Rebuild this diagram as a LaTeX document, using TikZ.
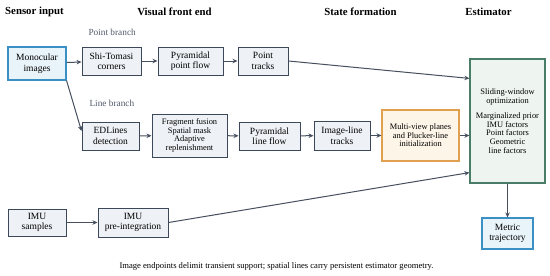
\documentclass[tikz,border=0pt]{standalone}
\usepackage{fontspec}
\setmainfont{LiberationSerif}[Extension=.ttf, UprightFont=*-Regular, BoldFont=*-Bold, ItalicFont=*-Italic, BoldItalicFont=*-BoldItalic]
\usepackage{tikz}
\usetikzlibrary{arrows.meta,positioning,calc}

\definecolor{edgegray}{HTML}{3C4858}
\definecolor{boxfill}{HTML}{EEF1F5}
\definecolor{inblue}{HTML}{3A8FC4}
\definecolor{infill}{HTML}{E9F3FA}
\definecolor{estgreen}{HTML}{4A7D68}
\definecolor{estfill}{HTML}{EEF5F1}
\definecolor{initorange}{HTML}{E0A050}
\definecolor{initfill}{HTML}{FDF5E8}
\definecolor{arrowgray}{HTML}{454F5E}

\begin{document}
\begin{tikzpicture}[
    x=1pt, y=-1pt,
    font=\fontsize{9.5}{10.5}\selectfont,
    box/.style={draw=edgegray, fill=boxfill, line width=1pt, align=center, inner sep=1pt},
    smallbox/.style={box, font=\fontsize{8.4}{8.6}\selectfont},
    inbox/.style={box, draw=inblue, fill=infill, line width=1.1pt},
    heading/.style={font=\fontsize{10.8}{12}\selectfont\bfseries},
    branch/.style={font=\fontsize{9.3}{11}\selectfont, text=edgegray!90, anchor=west},
    arr/.style={draw=arrowgray, line width=1pt, -{Stealth[length=5pt,width=4.5pt]}}
]
\useasboundingbox (0,0) rectangle (550,276);

% Column headings
\node (hsens) at (34.5,12) [heading] {Sensor input};
\node (hvis) at (174.5,12) [heading] {Visual front end};
\node (hstate) at (360.5,12) [heading] {State formation};
\node (hest) at (488.5,12) [heading] {Estimator};

% Branch labels
\node (lpoint) at (85,32) [branch] {Point branch};
\node (lline) at (86,103) [branch] {Line branch};

% Sensor inputs
\node (mono) at (37,63.5) [inbox, minimum width=58pt, minimum height=33pt] {Monocular\\images};
\node (imus) at (37,222.5) [box, minimum width=58pt, minimum height=27pt] {IMU\\samples};

% Point branch
\node (shi) at (111.5,61) [box, minimum width=59pt, minimum height=28pt] {Shi-Tomasi\\corners};
\node (ppf) at (190.5,61) [box, minimum width=65pt, minimum height=28pt] {Pyramidal\\point flow};
\node (ptr) at (263,61) [box, minimum width=50pt, minimum height=28pt] {Point\\tracks};

% Line branch
\node (edl) at (110.5,136) [box, minimum width=57pt, minimum height=28pt] {EDLines\\detection};
\node (frag) at (189.5,135.5) [smallbox, minimum width=75pt, minimum height=43pt] {Fragment fusion\\Spatial mask\\Adaptive\\replenishment};
\node (plf) at (269.5,136) [box, minimum width=61pt, minimum height=28pt] {Pyramidal\\line flow};
\node (ilt) at (342,135.5) [box, minimum width=56pt, minimum height=29pt] {Image-line\\tracks};
\node (mvp) at (420.5,135.5) [smallbox, draw=initorange, fill=initfill, line width=1.1pt, minimum width=77pt, minimum height=51pt] {Multi-view planes\\and Plucker-line\\initialization};

% IMU branch
\node (imup) at (133,222.5) [box, minimum width=70pt, minimum height=29pt] {IMU\\pre-integration};

% Estimator and output
\node (est) at (507.5,121) [smallbox, draw=estgreen, fill=estfill, line width=1.2pt, minimum width=75pt, minimum height=124pt] {Sliding-window\\optimization\\[7pt]Marginalized prior\\IMU factors\\Point factors\\Geometric\\line factors};
\node (met) at (507.5,233.5) [inbox, minimum width=51pt, minimum height=31pt] {Metric\\trajectory};

% Connectors
\draw[arr] (mono) -- (shi);
\draw[arr] (mono.south east) -- ([yshift=5pt]edl.west);
\draw[arr] (shi) -- (ppf);
\draw[arr] (ppf) -- (ptr);
\draw[arr] (ptr.east) -- ([yshift=-20pt]est.north west);
\draw[arr] (edl) -- (frag);
\draw[arr] (frag) -- (plf);
\draw[arr] (plf) -- (ilt);
\draw[arr] (ilt) -- (mvp);
\draw[arr] (mvp.east) -- (mvp.east -| est.west);
\draw[arr] (imus) -- (imup);
\draw[arr] (imup.east) -- ([yshift=11pt]est.south west);
\draw[arr] (est) -- (met);

% Caption
\node (cap) at (276.5,266) [font=\fontsize{8.6}{10}\selectfont] {Image endpoints delimit transient support; spatial lines carry persistent estimator geometry.};

\end{tikzpicture}
\end{document}
